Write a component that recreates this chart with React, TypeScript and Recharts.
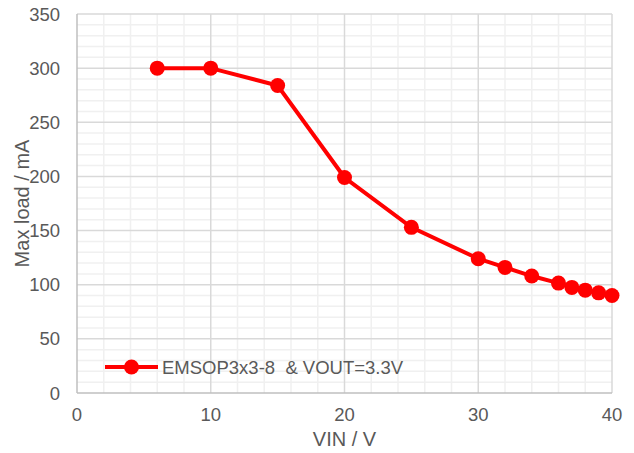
import React from "react";
import { LineChart, Line, XAxis, YAxis, ReferenceLine, Legend, Label } from "recharts";

const vin = [6, 10, 15, 20, 25, 30, 32, 34, 36, 37, 38, 39, 40];
const maxLoad = [300, 300, 284, 199, 153, 124, 116, 108, 101.5, 97.5, 95, 92.5, 90];
const seriesName = "EMSOP3x3-8  & VOUT=3.3V";
const xTicks = [0, 10, 20, 30, 40];
const yTicks = [0, 50, 100, 150, 200, 250, 300, 350];
const xMinor = [2, 4, 6, 8, 12, 14, 16, 18, 22, 24, 26, 28, 32, 34, 36, 38];
const yMinor = [10, 20, 30, 40, 60, 70, 80, 90, 110, 120, 130, 140, 160, 170, 180, 190, 210, 220, 230, 240, 260, 270, 280, 290, 310, 320, 330, 340];

const data = vin.map((v, i) => ({ vin: v, load: maxLoad[i] }));

const FONT = "'Liberation Sans', Arial, sans-serif";
const TXT = "#595959";
const RED = "#ff0000";

const LegendContent = () => (
  <svg width={340} height={24} style={{ overflow: "visible", display: "block" }}>
    <line x1={0} y1={12} x2={53} y2={12} stroke={RED} strokeWidth={4} />
    <circle cx={26.5} cy={12} r={7.5} fill={RED} />
    <text x={57} y={12} dominantBaseline="central" fontFamily={FONT} fontSize={18.5} fill={TXT} style={{ whiteSpace: "pre" }}>
      {seriesName}
    </text>
  </svg>
);

export default function App() {
  return (
    <div style={{ position: "absolute", left: 0, top: 0, background: "#fff" }}>
      <LineChart width={634} height={453} data={data} margin={{ top: 14, right: 22, bottom: 0, left: 0 }}>
        {xMinor.map((v) => (
          <ReferenceLine key={"xm" + v} x={v} stroke="#f0f0f0" strokeWidth={1.5} />
        ))}
        {yMinor.map((v) => (
          <ReferenceLine key={"ym" + v} y={v} stroke="#f0f0f0" strokeWidth={1.5} />
        ))}
        {xTicks.slice(1).map((v) => (
          <ReferenceLine key={"xM" + v} x={v} stroke="#d9d9d9" strokeWidth={1.5} />
        ))}
        {yTicks.slice(1).map((v) => (
          <ReferenceLine key={"yM" + v} y={v} stroke="#d9d9d9" strokeWidth={1.5} />
        ))}
        <XAxis
          dataKey="vin"
          type="number"
          domain={[0, 40]}
          ticks={xTicks}
          height={36}
          tickSize={0}
          tickMargin={15}
          axisLine={{ stroke: "#bfbfbf", strokeWidth: 1.5 }}
          tick={{ fill: TXT, fontSize: 18.5, fontFamily: FONT }}
        >
          <Label
            content={(props: any) => {
              const vb = props.viewBox || {};
              return (
                <text x={vb.x + vb.width / 2} y={439} textAnchor="middle" dominantBaseline="central" fontFamily={FONT} fontSize={20} fill={TXT}>
                  VIN / V
                </text>
              );
            }}
          />
        </XAxis>
        <YAxis
          type="number"
          domain={[0, 350]}
          ticks={yTicks}
          width={77}
          tickSize={0}
          tickMargin={17}
          axisLine={{ stroke: "#bfbfbf", strokeWidth: 1.5 }}
          tick={{ fill: TXT, fontSize: 18.5, fontFamily: FONT }}
        >
          <Label
            content={(props: any) => {
              const vb = props.viewBox || {};
              const cy = vb.y + vb.height / 2;
              return (
                <text x={22} y={cy} transform={`rotate(-90, 22, ${cy})`} textAnchor="middle" dominantBaseline="central" fontFamily={FONT} fontSize={20} fill={TXT}>
                  Max load / mA
                </text>
              );
            }}
          />
        </YAxis>
        <Legend
          content={<LegendContent />}
          wrapperStyle={{ position: "absolute", left: 105, top: 355, width: 340, height: 24 }}
        />
        <Line
          dataKey="load"
          name={seriesName}
          stroke={RED}
          strokeWidth={4}
          dot={{ r: 7.5, fill: RED, stroke: RED, strokeWidth: 0 }}
          activeDot={false}
          isAnimationActive={false}
        />
      </LineChart>
    </div>
  );
}
